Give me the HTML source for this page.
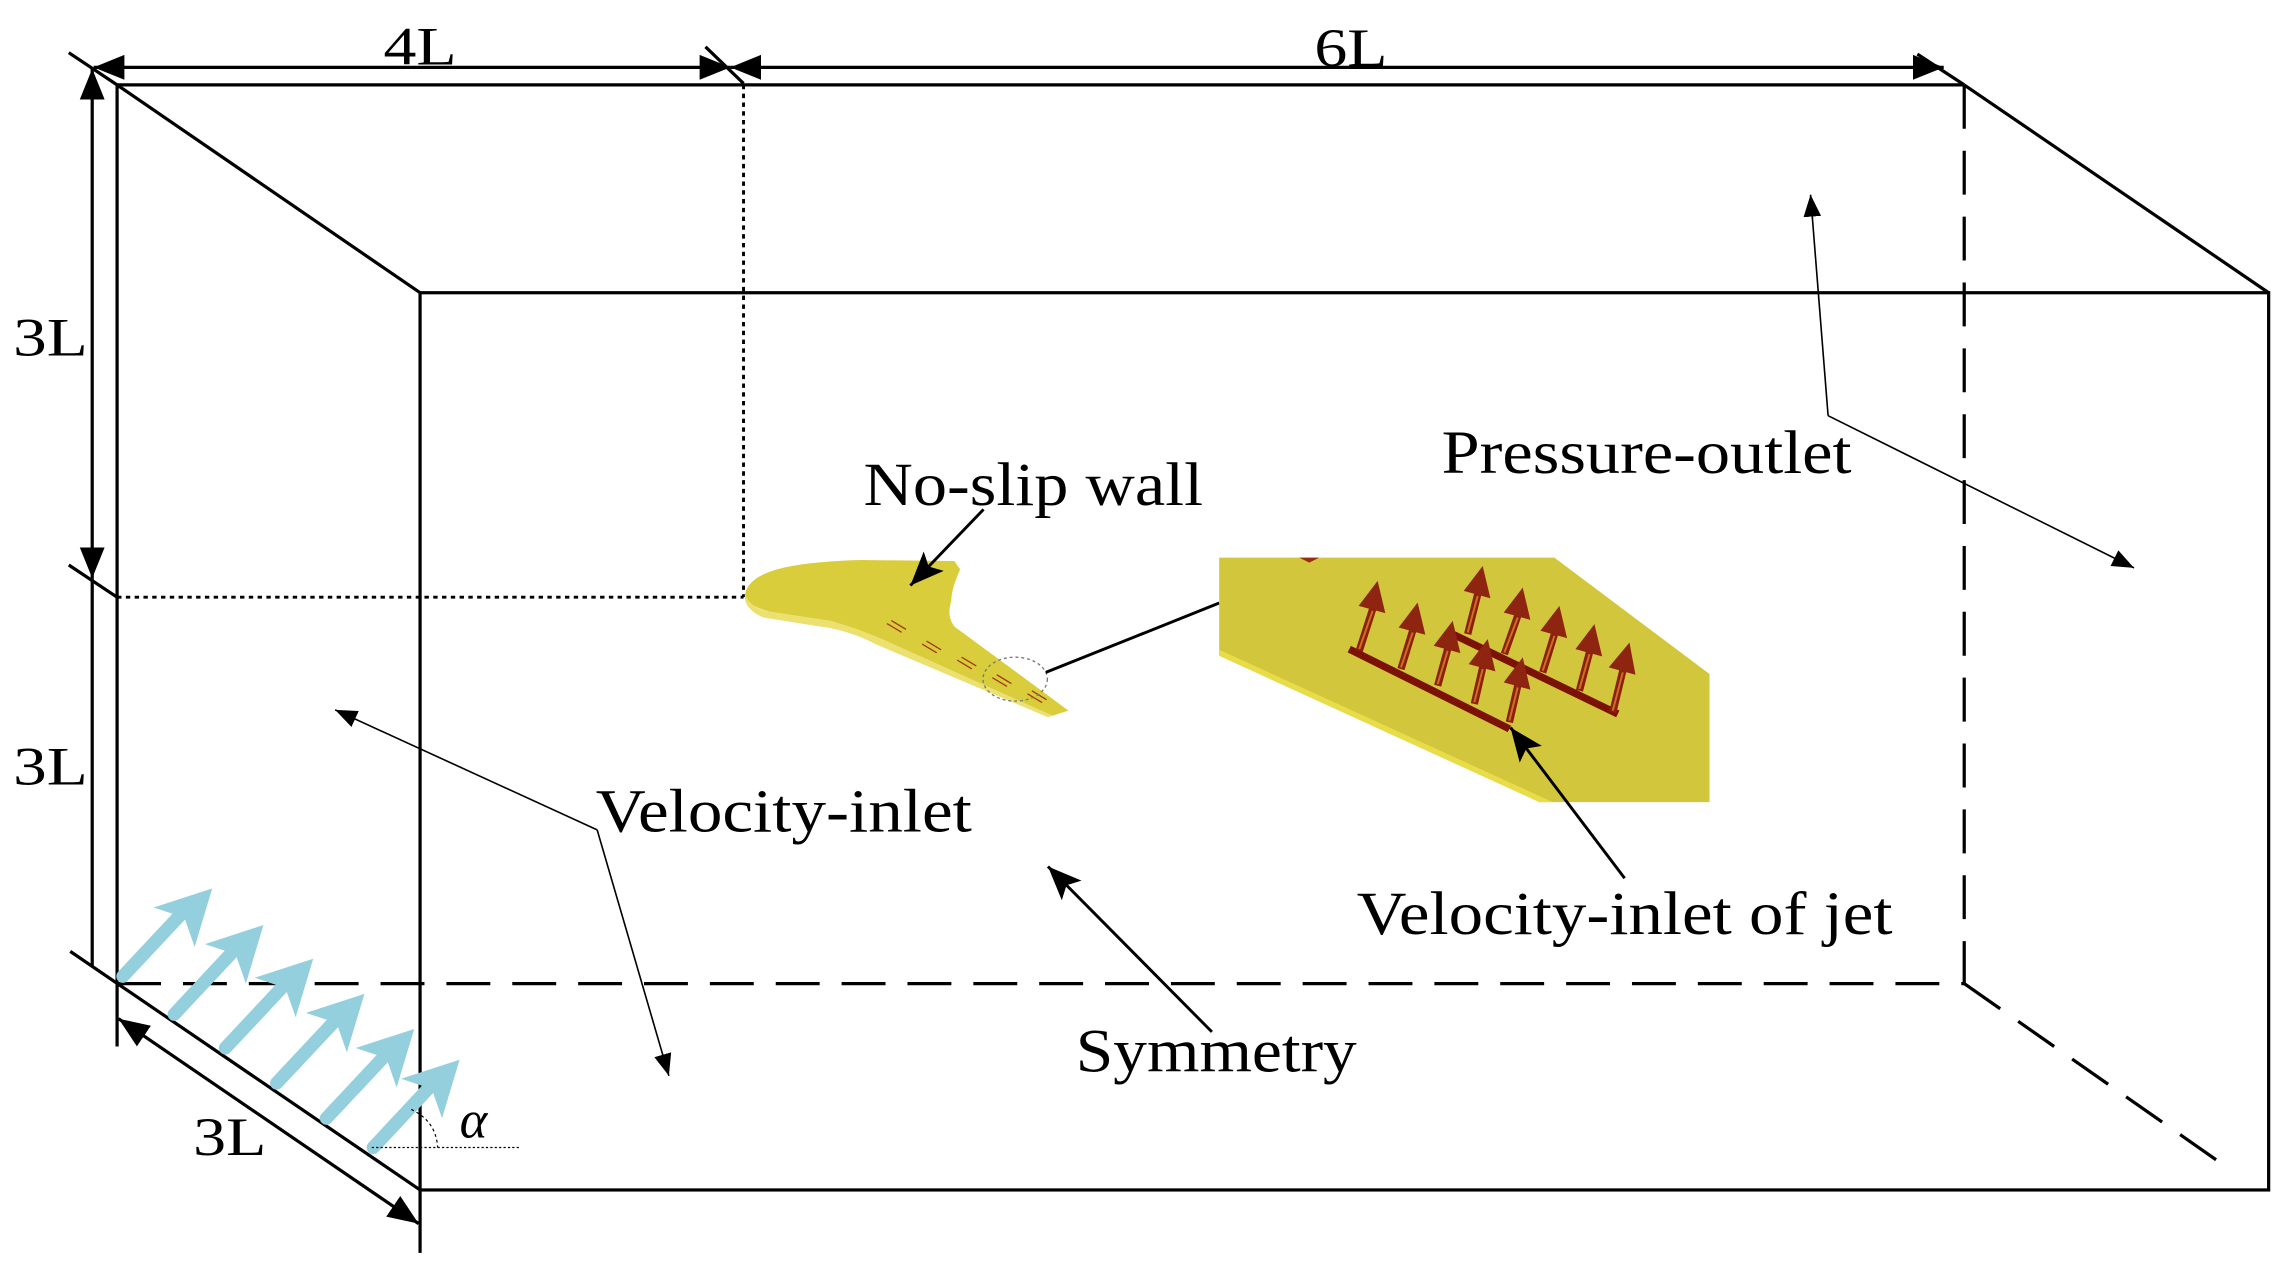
<!DOCTYPE html>
<html><head><meta charset="utf-8"><style>
html,body{margin:0;padding:0;background:#fff;}
svg{display:block;}
text{font-family:"Liberation Serif","Times New Roman",serif;fill:#000;}
</style></head><body>
<svg width="2295" height="1281" viewBox="0 0 1568 875.2" preserveAspectRatio="none" xmlns="http://www.w3.org/2000/svg" font-family="Liberation Serif, Times New Roman, serif">
<defs>
<marker id="dim" markerUnits="userSpaceOnUse" markerWidth="22" markerHeight="18" refX="21" refY="8.5" orient="auto-start-reverse" viewBox="0 0 22 17"><path d="M0,0 L21,8.5 L0,17 z" fill="#000"/></marker>
<marker id="big" markerUnits="userSpaceOnUse" markerWidth="24" markerHeight="20" refX="23" refY="9.5" orient="auto" viewBox="0 0 24 19"><path d="M0,0 L23,9.5 L0,19 L5,9.5 z" fill="#000"/></marker>
<marker id="sm" markerUnits="userSpaceOnUse" markerWidth="16" markerHeight="12" refX="15" refY="6" orient="auto" viewBox="0 0 16 12"><path d="M0,0 L15,6 L0,12 z" fill="#000"/></marker>
</defs>
<rect width="1568" height="876" fill="#fff"/>

<g stroke="#000" stroke-width="2.2" fill="none">
<line x1="80" y1="58" x2="1342" y2="58"/>
<line x1="80" y1="58" x2="80" y2="715"/>
<line x1="80" y1="58" x2="287" y2="200"/>
<line x1="1342" y1="58" x2="1550" y2="200"/>
<rect x="287" y="200" width="1263" height="613"/>
<line x1="287" y1="813" x2="287" y2="856"/>
<line x1="48" y1="650" x2="287" y2="813"/>
</g>
<g stroke="#000" stroke-width="2.2" fill="none" stroke-dasharray="30 15">
<line x1="80" y1="672" x2="1342" y2="672"/>
<line x1="1342" y1="58" x2="1342" y2="672"/>
<line x1="1342" y1="672" x2="1525" y2="800"/>
</g>
<g stroke="#000" stroke-width="2" fill="none" stroke-dasharray="3 3">
<line x1="508" y1="58" x2="508" y2="408"/>
<line x1="80" y1="408" x2="508" y2="408"/>
</g>

<g stroke="#000" stroke-width="2.2" fill="none">
<line x1="64" y1="46" x2="499" y2="46" marker-start="url(#dim)" marker-end="url(#dim)"/>
<line x1="499" y1="46" x2="1328" y2="46" marker-start="url(#dim)" marker-end="url(#dim)"/>
<line x1="47" y1="36" x2="80" y2="58"/>
<line x1="482" y1="32" x2="508" y2="57"/>
<line x1="1310" y1="37" x2="1342" y2="58"/>
<line x1="63" y1="47" x2="63" y2="395" marker-start="url(#dim)" marker-end="url(#dim)"/>
<line x1="63" y1="395" x2="63" y2="660"/>
<line x1="47" y1="386" x2="80" y2="408"/>
<line x1="81" y1="696" x2="286" y2="836" marker-start="url(#dim)" marker-end="url(#dim)"/>
</g>
<text x="262" y="44" font-size="37" textLength="50" lengthAdjust="spacingAndGlyphs">4L</text>
<text x="898" y="45" font-size="37" textLength="50" lengthAdjust="spacingAndGlyphs">6L</text>
<text x="9" y="243" font-size="37" textLength="51" lengthAdjust="spacingAndGlyphs">3L</text>
<text x="9" y="536" font-size="37" textLength="51" lengthAdjust="spacingAndGlyphs">3L</text>
<text x="132" y="789" font-size="37" textLength="50" lengthAdjust="spacingAndGlyphs">3L</text>

<g stroke="#93cfdd" stroke-width="9" stroke-linecap="round" fill="#93cfdd">
<line x1="84" y1="667" x2="128" y2="620"/>
<line x1="119" y1="693" x2="163" y2="646"/>
<line x1="154" y1="716" x2="198" y2="669"/>
<line x1="189" y1="740" x2="233" y2="693"/>
<line x1="223" y1="764" x2="267" y2="717"/>
<line x1="255" y1="784" x2="298" y2="738"/>
</g>
<g fill="#93cfdd">
<polygon points="145,607 105,620 126,627 133,647"/>
<polygon points="180,632 140,645 161,652 168,672"/>
<polygon points="214,655 174,668 195,675 202,695"/>
<polygon points="249,679 209,692 230,699 237,719"/>
<polygon points="283,703 243,716 264,723 271,743"/>
<polygon points="314,724 274,737 295,744 302,764"/>
</g>
<line x1="254" y1="784" x2="356" y2="784" stroke="#000" stroke-width="0.8" stroke-dasharray="1.5 1.5"/>
<path d="M281,758 Q298,766 299,784" stroke="#000" stroke-width="0.8" fill="none" stroke-dasharray="2 2"/>
<text x="314" y="777" font-size="36" font-style="italic">α</text>

<path d="M509,406 C512,390 540,384 588,382.6 L652,383.3 L656,389 C652,398 650,405 650,410 C648,418 648,422 652,428 L730,485.5 L719,489 L601,436 C585,430 575,426 566,424 L526,418 C515,415 509,411 509,406 z" fill="#d9cd3c"/>
<path d="M509,406 C512,414 520,417 526,418 L566,424 C578,427 590,431 601,436 L719,489 L716,490 L598,440 C585,433 570,429 560,428 L522,422 C512,418 508,412 509,406 z" fill="#ece070"/>
<g stroke="#a23a10" stroke-width="0.9">
<line x1="606" y1="426" x2="616" y2="432"/><line x1="609" y1="424" x2="619" y2="430"/>
<line x1="630" y1="440" x2="640" y2="446"/><line x1="633" y1="438" x2="643" y2="444"/>
<line x1="654" y1="451" x2="664" y2="457"/><line x1="657" y1="449" x2="667" y2="455"/>
<line x1="678" y1="463" x2="688" y2="469"/><line x1="681" y1="461" x2="691" y2="467"/>
<line x1="702" y1="474" x2="712" y2="480"/><line x1="705" y1="472" x2="715" y2="478"/>
</g>
<ellipse cx="693.6" cy="464" rx="22" ry="15" fill="none" stroke="#777" stroke-width="0.9" stroke-dasharray="2 2"/>
<line x1="714.5" y1="459.4" x2="833" y2="412" stroke="#000" stroke-width="2"/>

<g transform="translate(819.3,368.5) scale(0.2279,0.2272)">
<polygon points="60,55 1065,55 1530,405 1530,790 1020,790 60,350" fill="#d2c63c"/>
<polygon points="60,332 1060,790 1020,790 60,350" fill="#e8dc48"/>
<polygon points="300,55 360,55 330,70" fill="#9a2a10"/>
<line x1="760" y1="285" x2="1255" y2="525" stroke="#7c1206" stroke-width="22"/>
<g stroke="#8e1f0c" stroke-width="22">
<line x1="805" y1="285" x2="835" y2="165"/>
<line x1="915" y1="345" x2="955" y2="230"/>
<line x1="1030" y1="400" x2="1065" y2="285"/>
<line x1="1140" y1="455" x2="1170" y2="340"/>
<line x1="1240" y1="520" x2="1270" y2="395"/>
</g>
<g stroke="#c9702a" stroke-width="6">
<line x1="805" y1="280" x2="835" y2="170"/>
<line x1="915" y1="340" x2="955" y2="235"/>
<line x1="1030" y1="395" x2="1065" y2="290"/>
<line x1="1140" y1="450" x2="1170" y2="345"/>
<line x1="1240" y1="515" x2="1270" y2="400"/>
</g>
<g fill="#8e2510">
<polygon points="850,80 793,155 873,177"/>
<polygon points="970,145 913,220 993,242"/>
<polygon points="1080,200 1023,275 1103,297"/>
<polygon points="1185,255 1128,330 1208,352"/>
<polygon points="1290,310 1228,385 1308,407"/>
</g>
<line x1="450" y1="330" x2="930" y2="570" stroke="#7c1206" stroke-width="22"/>
<g stroke="#8e1f0c" stroke-width="22">
<line x1="480" y1="335" x2="520" y2="210"/>
<line x1="605" y1="390" x2="640" y2="275"/>
<line x1="715" y1="440" x2="745" y2="330"/>
<line x1="825" y1="495" x2="850" y2="385"/>
<line x1="930" y1="550" x2="955" y2="440"/>
</g>
<g stroke="#c9702a" stroke-width="6">
<line x1="480" y1="330" x2="520" y2="215"/>
<line x1="605" y1="385" x2="640" y2="280"/>
<line x1="715" y1="435" x2="745" y2="335"/>
<line x1="825" y1="490" x2="850" y2="390"/>
<line x1="930" y1="545" x2="955" y2="445"/>
</g>
<g fill="#8e2510">
<polygon points="535,125 478,200 558,222"/>
<polygon points="655,190 598,265 678,287"/>
<polygon points="760,245 703,320 783,342"/>
<polygon points="865,300 808,375 888,397"/>
<polygon points="970,355 913,430 993,452"/>
</g>
</g>

<g stroke="#000" fill="none">
<line x1="672" y1="348" x2="622" y2="400" stroke-width="2" marker-end="url(#big)"/>
<line x1="1110" y1="600" x2="1032" y2="497" stroke-width="2" marker-end="url(#big)"/>
<line x1="828" y1="705" x2="716" y2="592" stroke-width="2" marker-end="url(#big)"/>
<line x1="408" y1="567" x2="229" y2="485" stroke-width="1.1" marker-end="url(#sm)"/>
<line x1="408" y1="567" x2="457" y2="735" stroke-width="1.1" marker-end="url(#sm)"/>
<line x1="1249" y1="284" x2="1237" y2="133" stroke-width="1.1" marker-end="url(#sm)"/>
<line x1="1249" y1="284" x2="1458" y2="388" stroke-width="1.1" marker-end="url(#sm)"/>
</g>

<text x="590" y="345" font-size="42" textLength="232" lengthAdjust="spacingAndGlyphs">No-slip wall</text>
<text x="985" y="323" font-size="42" textLength="280" lengthAdjust="spacingAndGlyphs">Pressure-outlet</text>
<text x="407" y="568" font-size="42" textLength="257" lengthAdjust="spacingAndGlyphs">Velocity-inlet</text>
<text x="927" y="638" font-size="42" textLength="366" lengthAdjust="spacingAndGlyphs">Velocity-inlet of jet</text>
<text x="735" y="732" font-size="42" textLength="192" lengthAdjust="spacingAndGlyphs">Symmetry</text>
</svg>
</body></html>
